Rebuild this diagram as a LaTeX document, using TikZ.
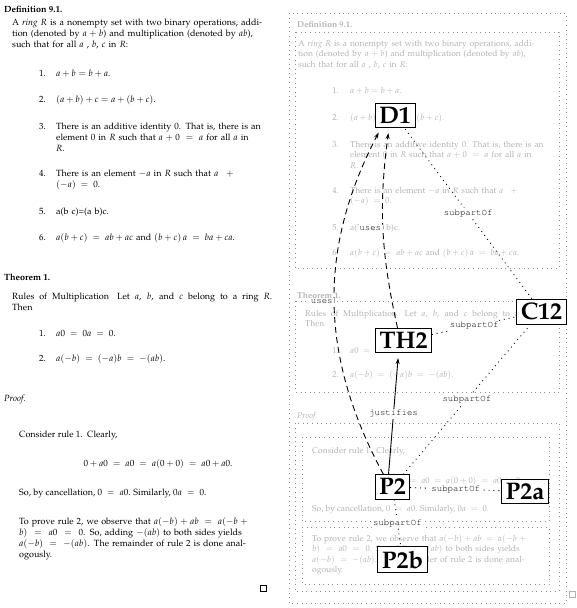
\documentclass[tikz,border=0pt]{standalone}
\usepackage[T1]{fontenc}
\usepackage{mathpazo}
\usepackage{courier}
\usetikzlibrary{arrows.meta}
\tolerance=9999
\hyphenpenalty=10000

% document texts, used in both columns
\newcommand\txtDefHead{\textbf{Definition 9.1.}}
\newcommand\txtDefBody{A \emph{ring} $R$ is a nonempty set with two binary operations, addi-\linebreak tion (denoted by $a+b$) and multiplication (denoted by $ab$),\linebreak such that for all $a$ , $b$, $c$ in $R$:}
\newcommand\txtDefI{$a+b=b+a$.}
\newcommand\txtDefII{$(a+b)+c=a+(b+c)$.}
\newcommand\txtDefIII{There is an additive identity 0. That is, there is an\linebreak element 0 in $R$ such that $a+0=a$ for all $a$ in\linebreak $R$.}
\newcommand\txtDefIV{There is an element $-a$ in $R$ such that $a\;+$\linebreak $(-a)\;=\;0$.}
\newcommand\txtDefV{a(b c)=(a b)c.}
\newcommand\txtDefVI{$a(b+c)\;=\;ab+ac$ and $(b+c)\,a\;=\;ba+ca$.}
\newcommand\txtThmHead{\textbf{Theorem 1.}}
\newcommand\txtThmBody[1]{\hbox to #1{\spaceskip=0.25em plus 1fil\relax Rules of Multiplication\hspace{0.6em plus 1fil}Let $a$, $b$, and $c$ belong to a ring $R$.}\par Then}
\newcommand\txtThmI{$a0\;=\;0a\;=\;0$.}
\newcommand\txtThmII{$a(-b)\;=\;(-a)b\;=\;-(ab)$.}
\newcommand\txtPrfHead{\textit{Proof.}}
\newcommand\txtPrfA{Consider rule 1.\ \ Clearly,}
\newcommand\txtPrfEq{$0+a0\;=\;a0\;=\;a(0+0)\;=\;a0+a0$.}
\newcommand\txtPrfB{So, by cancellation, $0\;=\;a0$. Similarly, $0a\;=\;0$.}
\newcommand\txtPrfC{To prove rule 2, we observe that $a(-b)+ab=a(-b+{}$\linebreak $b)=a0=0$. So, adding $-(ab)$ to both sides yields\linebreak $a(-b)=-(ab)$. The remainder of rule 2 is done anal-\linebreak ogously.}

\begin{document}
\begin{tikzpicture}[x=1pt, y=-1pt,
    doc/.style={inner sep=0pt, anchor=base west, font=\fontsize{9}{11}\selectfont},
    ghost/.style={inner sep=0pt, anchor=base west, text=black!30, font=\fontsize{8.5}{10.5}\selectfont},
    num/.style={anchor=base east},
    frame/.style={draw=black!45, line width=0.6pt, loosely dotted},
    part/.style={draw, line width=0.8pt, fill=white, inner sep=4pt, font=\fontsize{24}{28}\selectfont\bfseries},
    rel/.style={fill=white, inner sep=1.5pt, font=\fontsize{9}{10}\selectfont\ttfamily},
    usesedge/.style={-{Stealth[length=6pt,width=4pt]}, line width=0.9pt, dash pattern=on 6pt off 4pt, shorten >=5pt},
    justedge/.style={-{Stealth[length=6pt,width=4pt]}, line width=0.9pt, shorten >=5pt},
    subedge/.style={line width=0.9pt, loosely dotted}]
    \useasboundingbox (0,0) rectangle (577,608);

    % Left column: the document
    \node[doc] (lDefHead) at (4,12) {\txtDefHead};
    \node[doc, text width=261pt] (lDefBody) at (12,25) {\txtDefBody};
    \foreach \y [count=\i] in {76,102,129,176,214,240}
        \node[doc, num] (lDefN\i) at (46,\y) {\i.};
    \node[doc, text width=216pt] (lDefI1) at (56,76) {\txtDefI};
    \node[doc, text width=216pt] (lDefI2) at (56,102) {\txtDefII};
    \node[doc, text width=216pt] (lDefI3) at (56,129) {\txtDefIII};
    \node[doc, text width=216pt] (lDefI4) at (56,176) {\txtDefIV};
    \node[doc, text width=216pt] (lDefI5) at (56,214) {\txtDefV};
    \node[doc, text width=216pt] (lDefI6) at (56,240) {\txtDefVI};

    \node[doc] (lThmHead) at (4,280) {\txtThmHead};
    \node[doc, text width=261pt] (lThmBody) at (12,299) {\txtThmBody{260pt}};
    \foreach \y [count=\i] in {336,361}
        \node[doc, num] (lThmN\i) at (46,\y) {\i.};
    \node[doc] (lThmI1) at (56,336) {\txtThmI};
    \node[doc] (lThmI2) at (56,361) {\txtThmII};

    \node[doc] (lPrfHead) at (4,401) {\txtPrfHead};
    \node[doc] (lPrfA) at (19,437) {\txtPrfA};
    \node[doc, anchor=base] (lPrfEq) at (158,466) {\txtPrfEq};
    \node[doc] (lPrfB) at (19,495) {\txtPrfB};
    \node[doc, text width=254pt] (lPrfC) at (19,524) {\txtPrfC};
    \draw[line width=0.5pt] (260,585) rectangle (266,591);

    % Right column: faded copy in dotted frames
    \draw[frame] (289,13) rectangle (566,603);
    \draw[frame] (295,32) rectangle (559,268);
    \draw[frame] (295,301) rectangle (559,392);
    \draw[frame] (295,423) rectangle (559,591);
    \draw[frame] (302,437) rectangle (549,521);
    \draw[frame] (302,527) rectangle (549,584);

    \node[ghost] (rDefHead) at (297,27) {\txtDefHead};
    \node[ghost, text width=253pt] (rDefBody) at (298,46) {\txtDefBody};
    \foreach \y [count=\i] in {93,120,147,193,230,255}
        \node[ghost, num] (rDefN\i) at (339,\y) {\i.};
    \node[ghost, text width=202pt] (rDefI1) at (350,93) {\txtDefI};
    \node[ghost, text width=202pt] (rDefI2) at (350,120) {\txtDefII};
    \node[ghost, text width=202pt] (rDefI3) at (350,147) {\txtDefIII};
    \node[ghost, text width=202pt] (rDefI4) at (350,193) {\txtDefIV};
    \node[ghost, text width=202pt] (rDefI5) at (350,230) {\txtDefV};
    \node[ghost, text width=202pt] (rDefI6) at (350,255) {\txtDefVI};

    \node[ghost] (rThmHead) at (297,298) {\txtThmHead};
    \node[ghost, text width=247pt] (rThmBody) at (305,316) {\txtThmBody{247pt}};
    \foreach \y [count=\i] in {353,377}
        \node[ghost, num] (rThmN\i) at (339,\y) {\i.};
    \node[ghost] (rThmI1) at (350,353) {\txtThmI};
    \node[ghost] (rThmI2) at (350,377) {\txtThmII};

    \node[ghost] (rPrfHead) at (297,418) {\txtPrfHead};
    \node[ghost] (rPrfA) at (312,453) {\txtPrfA};
    \node[ghost, anchor=base] (rPrfEq) at (452,483) {\txtPrfEq};
    \node[ghost] (rPrfB) at (312,511) {\txtPrfB};
    \node[ghost, text width=232pt] (rPrfC) at (312,541) {\txtPrfC};
    \draw[black!30, line width=0.5pt] (569,591) rectangle (575,597);

    % Parts
    \node[part] (D1) at (395,115.5) {D1};
    \node[part] (TH2) at (403.5,340.5) {TH2};
    \node[part] (C12) at (541.5,311.5) {C12};
    \node[part] (P2) at (392.5,487) {P2};
    \node[part] (P2a) at (525,491.5) {P2a};
    \node[part] (P2b) at (402.5,559.5) {P2b};

    % Relations
    \draw[usesedge] ([xshift=-9pt]P2.north) to[bend left=28] node[rel, midway, left] {uses} ([xshift=-14pt]D1.south);
    \draw[usesedge] ([xshift=-6pt]TH2.north) to[bend left=10] node[rel, midway, left] {uses} ([xshift=-6pt]D1.south);
    \draw[justedge] ([xshift=-4pt]P2.north) -- node[rel, midway] {justifies} ([xshift=-5pt]TH2.south);
    \draw[subedge] (C12) -- node[rel, midway] {subpartOf} (D1);
    \draw[subedge] (TH2) -- node[rel, midway] {subpartOf} (C12);
    \draw[subedge] (P2) -- node[rel, midway] {subpartOf} (C12);
    \draw[subedge] (P2) -- node[rel, midway] {subpartOf} (P2a);
    \draw[subedge] (P2) -- node[rel, midway] {subpartOf} (P2b);
\end{tikzpicture}
\end{document}
